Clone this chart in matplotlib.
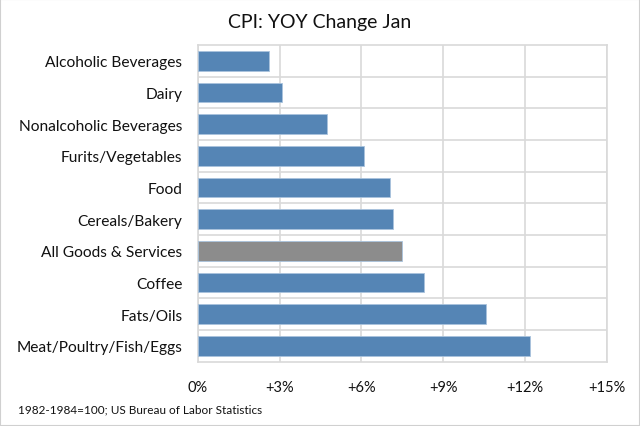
import matplotlib.pyplot as plt
from matplotlib.patches import Rectangle
from matplotlib.ticker import FuncFormatter

plt.rcParams['font.family'] = ['Lato', 'DejaVu Sans']

# Data
categories = ['Alcoholic Beverages', 'Dairy', 'Nonalcoholic Beverages', 'Furits/Vegetables',
              'Food', 'Cereals/Bakery', 'All Goods & Services', 'Coffee', 'Fats/Oils',
              'Meat/Poultry/Fish/Eggs']
yoy_change = [2.6, 3.1, 4.75, 6.1, 7.05, 7.15, 7.5, 8.3, 10.57, 12.2]
highlight = 'All Goods & Services'
x_ticks = [0, 3, 6, 9, 12, 15]

blue = '#5585b5'
grey = '#8c8c8c'
colors = [grey if c == highlight else blue for c in categories]

fig = plt.figure(figsize=(6.4, 4.27), dpi=100)
ax = fig.add_axes([0.309, 0.1506, 0.639, 0.7417])

ax.barh(range(len(categories)), yoy_change, height=0.63, color=colors,
        edgecolor='#a9c3dd', linewidth=0.6, zorder=3)

ax.set_xlim(0, 15)
ax.set_ylim(len(categories) - 0.5, -0.5)
ax.set_xticks(x_ticks)
ax.xaxis.set_major_formatter(FuncFormatter(lambda v, p: '0%' if v == 0 else '+%d%%' % v))
ax.set_yticks(range(len(categories)))
ax.set_yticklabels(categories)
ax.set_yticks([i + 0.5 for i in range(len(categories) - 1)], minor=True)

ax.grid(axis='x', which='major', color='#d9d9d9', linewidth=1.2, zorder=0)
ax.grid(axis='y', which='minor', color='#d9d9d9', linewidth=1.2, zorder=0)
for s in ax.spines.values():
    s.set_color('#d9d9d9')
    s.set_linewidth(1.2)

ax.tick_params(axis='both', which='both', length=0, colors='#111111')
ax.tick_params(axis='x', labelsize=10.5, pad=13)
ax.tick_params(axis='y', labelsize=11.2, pad=11)

fig.text(0.5, 0.948, 'CPI: YOY Change Jan', ha='center', va='center', fontsize=14, color='#111111')
fig.text(0.028, 0.04, '1982-1984=100; US Bureau of Labor Statistics', ha='left', va='center',
         fontsize=8.5, color='#111111')

fig.patches.append(Rectangle((0, 0), 1, 1, transform=fig.transFigure, fill=False,
                             edgecolor='#d0d0d0', linewidth=1.5))

fig.savefig('out.png', dpi=100)
